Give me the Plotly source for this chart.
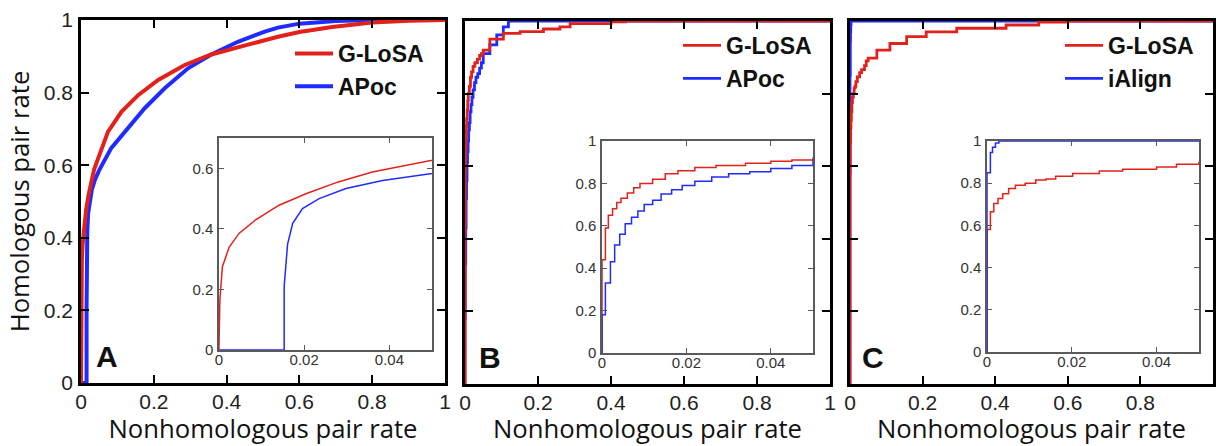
import plotly.graph_objects as go

# ---------------- data ----------------
# Panel A (G-LoSA vs APoc), smooth ROC curves
a_glosa_x = [0, 0, 0.0002, 0.0008, 0.0024, 0.0047, 0.0086, 0.0141, 0.0204, 0.028, 0.036, 0.0494,
             0.074, 0.111, 0.157, 0.212, 0.285, 0.358, 0.45, 0.541, 0.6, 0.69, 0.8, 0.9, 1.0]
a_glosa_y = [0, 0.01, 0.165, 0.275, 0.34, 0.385, 0.43, 0.478, 0.516, 0.555, 0.588, 0.625,
             0.692, 0.747, 0.793, 0.835, 0.876, 0.905, 0.931, 0.954, 0.967, 0.981, 0.993, 0.998, 1.0]
a_apoc_x = [0, 0.0153, 0.0153, 0.0161, 0.0173, 0.0196, 0.0235, 0.0298, 0.0384, 0.0494, 0.083, 0.129,
            0.175, 0.23, 0.294, 0.358, 0.431, 0.505, 0.541, 0.6, 0.7, 0.8, 1.0]
a_apoc_y = [0, 0, 0.21, 0.35, 0.418, 0.467, 0.5, 0.533, 0.56, 0.585, 0.647, 0.702,
            0.757, 0.812, 0.867, 0.905, 0.94, 0.968, 0.979, 0.99, 0.997, 1.0, 1.0]

# Panel B (G-LoSA vs APoc), step ROC curves
b_glosa_x = [0, 0, 0.0008, 0.0015, 0.0025, 0.0035, 0.0045, 0.006, 0.0075, 0.009, 0.012, 0.015, 0.018,
             0.022, 0.027, 0.034, 0.04, 0.045, 0.05, 0.068, 0.105, 0.151, 0.215, 0.26, 0.288, 0.4, 0.44, 1.0]
b_glosa_y = [0, 0.44, 0.59, 0.65, 0.68, 0.71, 0.73, 0.755, 0.78, 0.8, 0.82, 0.845, 0.86,
             0.875, 0.885, 0.895, 0.905, 0.91, 0.92, 0.95, 0.966, 0.971, 0.978, 0.984, 0.993, 0.998, 1.0, 1.0]
b_apoc_x = [0, 0, 0.0008, 0.002, 0.003, 0.0042, 0.0055, 0.007, 0.0085, 0.01, 0.012, 0.014, 0.0165,
            0.019, 0.022, 0.026, 0.03, 0.035, 0.04, 0.045, 0.05, 0.068, 0.087, 0.105, 0.119, 1.0]
b_apoc_y = [0, 0.18, 0.33, 0.43, 0.51, 0.56, 0.61, 0.64, 0.67, 0.7, 0.72, 0.75, 0.77,
            0.79, 0.81, 0.83, 0.845, 0.855, 0.87, 0.885, 0.91, 0.934, 0.962, 0.984, 1.0, 1.0]

# Panel C (G-LoSA vs iAlign), step ROC curves
c_glosa_x = [0, 0, 0.0008, 0.0016, 0.0026, 0.0037, 0.0051, 0.0067, 0.009, 0.0115, 0.0139, 0.0162,
             0.0202, 0.0265, 0.032, 0.04, 0.0447, 0.05, 0.074, 0.11, 0.156, 0.21, 0.294, 0.43, 0.52, 0.6, 1.0]
c_glosa_y = [0, 0.58, 0.665, 0.704, 0.727, 0.75, 0.775, 0.79, 0.8, 0.815, 0.82, 0.833,
             0.846, 0.858, 0.866, 0.877, 0.89, 0.898, 0.92, 0.938, 0.957, 0.97, 0.98, 0.989, 0.997, 1.0, 1.0]
c_ialign_x = [0, 0, 0.0008, 0.0013, 0.002, 0.0028, 1.0]
c_ialign_y = [0, 0.85, 0.945, 0.97, 0.99, 1.0, 1.0]

main_ticks = [0, 0.2, 0.4, 0.6, 0.8, 1]
main_ticktext = ["0", "0.2", "0.4", "0.6", "0.8", "1"]
inset_xticks = [0, 0.02, 0.04]
inset_xticktext = ["0", "0.02", "0.04"]
inset_a_yticks = [0, 0.2, 0.4, 0.6]
inset_a_yticktext = ["0", "0.2", "0.4", "0.6"]
inset_bc_yticks = [0, 0.2, 0.4, 0.6, 0.8, 1]
inset_bc_yticktext = ["0", "0.2", "0.4", "0.6", "0.8", "1"]

panel_labels = ["A", "B", "C"]
legend_names = [["G-LoSA", "APoc"], ["G-LoSA", "APoc"], ["G-LoSA", "iAlign"]]
x_title = "Nonhomologous pair rate"
y_title = "Homologous pair rate"

# ---------------- styling ----------------
W, H = 1218, 446
RED = "#e3211b"
BLUE = "#1f2bff"
FONT = "Liberation Sans, Arial, sans-serif"
TITLE_FONT = "Open Sans, Liberation Sans, sans-serif"


def px_x(a, b):
    return [a / W, b / W]


def px_y(top, bottom):
    return [1 - bottom / H, 1 - top / H]


main_dom = [(px_x(81, 445), px_y(20, 383)),
            (px_x(465, 830), px_y(21, 384)),
            (px_x(850, 1213), px_y(21, 384))]
inset_dom = [(px_x(219, 432), px_y(138, 350)),
             (px_x(602, 813), px_y(141, 353)),
             (px_x(987, 1199), px_y(141, 352))]

fig = go.Figure()

data = [
    (a_glosa_x, a_glosa_y, a_apoc_x, a_apoc_y, "linear"),
    (b_glosa_x, b_glosa_y, b_apoc_x, b_apoc_y, "hv"),
    (c_glosa_x, c_glosa_y, c_ialign_x, c_ialign_y, "hv"),
]
legend_ids = ["legend", "legend2", "legend3"]

for i, (rx, ry, bx, by, shape) in enumerate(data):
    n = i + 1
    xa = "x" if n == 1 else f"x{n}"
    ya = "y" if n == 1 else f"y{n}"
    lw = 4 if i == 0 else 2.8
    fig.add_trace(go.Scatter(x=bx, y=by, mode="lines", line=dict(color=BLUE, width=lw, shape=shape),
                             name=legend_names[i][1], xaxis=xa, yaxis=ya, legend=legend_ids[i],
                             legendgroup=f"g{i}b", legendrank=2, showlegend=True))
    fig.add_trace(go.Scatter(x=rx, y=ry, mode="lines", line=dict(color=RED, width=lw, shape=shape),
                             name=legend_names[i][0], xaxis=xa, yaxis=ya, legend=legend_ids[i],
                             legendgroup=f"g{i}a", legendrank=1, showlegend=True))

for i, (rx, ry, bx, by, shape) in enumerate(data):
    n = i + 4
    xa, ya = f"x{n}", f"y{n}"
    fig.add_trace(go.Scatter(x=rx, y=ry, mode="lines", line=dict(color=RED, width=1.5, shape=shape),
                             xaxis=xa, yaxis=ya, showlegend=False))
    fig.add_trace(go.Scatter(x=bx, y=by, mode="lines", line=dict(color=BLUE, width=1.5, shape=shape),
                             xaxis=xa, yaxis=ya, showlegend=False))

layout = dict(width=W, height=H, margin=dict(l=0, r=0, t=0, b=0, autoexpand=False),
              plot_bgcolor="white", paper_bgcolor="white", showlegend=True)

main_axis = dict(showline=True, linecolor="black", linewidth=2.5, mirror="allticks",
                 ticks="inside", ticklen=8, tickwidth=2, tickcolor="black",
                 range=[0, 1], tickvals=main_ticks, ticktext=main_ticktext,
                 showgrid=False, zeroline=False, automargin=False,
                 tickfont=dict(family=FONT, size=21, color="#222"))
inset_axis = dict(showline=True, linecolor="#5a5a5a", linewidth=1.5, mirror="allticks",
                  ticks="inside", ticklen=5, tickwidth=1, tickcolor="#5a5a5a",
                  showgrid=False, zeroline=False, automargin=False,
                  tickfont=dict(family=FONT, size=15, color="#333"))

for i in range(3):
    n = i + 1
    kx = "xaxis" if n == 1 else f"xaxis{n}"
    ky = "yaxis" if n == 1 else f"yaxis{n}"
    xa = "x" if n == 1 else f"x{n}"
    ya = "y" if n == 1 else f"y{n}"
    xd, yd = main_dom[i]
    layout[kx] = dict(main_axis, domain=xd, anchor=ya, ticklabelstandoff=-2,
                      title=dict(text=x_title, font=dict(family=TITLE_FONT, size=25.7, color="#111"),
                                 standoff=12))
    ydict = dict(main_axis, domain=yd, anchor=xa, ticklabelstandoff=1,
                 showticklabels=(i == 0))
    if i == 0:
        ydict["title"] = dict(text=y_title, font=dict(family=TITLE_FONT, size=25.7, color="#111"),
                              standoff=7)
    layout[ky] = ydict

for i in range(3):
    n = i + 4
    xd, yd = inset_dom[i]
    layout[f"xaxis{n}"] = dict(inset_axis, domain=xd, anchor=f"y{n}", range=[0, 0.05],
                               tickvals=inset_xticks, ticktext=inset_xticktext, ticklabelstandoff=-5)
    if i == 0:
        layout[f"yaxis{n}"] = dict(inset_axis, domain=yd, anchor=f"x{n}", range=[0, 0.7],
                                   tickvals=inset_a_yticks, ticktext=inset_a_yticktext,
                                   ticklabelstandoff=1)
    else:
        layout[f"yaxis{n}"] = dict(inset_axis, domain=yd, anchor=f"x{n}", range=[0, 1],
                                   tickvals=inset_bc_yticks, ticktext=inset_bc_yticktext,
                                   ticklabelstandoff=1)

legend_pos = [(290, 32), (678, 24), (1060, 24)]
for i, lid in enumerate(legend_ids):
    lx, ly = legend_pos[i]
    layout[lid] = dict(x=lx / W, y=1 - ly / H, xanchor="left", yanchor="top",
                       bgcolor="rgba(0,0,0,0)", borderwidth=0, tracegroupgap=2,
                       traceorder="normal", itemwidth=38,
                       font=dict(family=FONT, size=23, color="#111", weight="bold"))

annotations = []
label_pos = [0.071, 0.068, 0.063]
for i, lab in enumerate(panel_labels):
    n = i + 1
    xa = "x" if n == 1 else f"x{n}"
    ya = "y" if n == 1 else f"y{n}"
    annotations.append(dict(text=f"<b>{lab}</b>", x=label_pos[i], y=0.072,
                            xref=f"{xa} domain", yref=f"{ya} domain",
                            xanchor="center", yanchor="middle",
                            showarrow=False, font=dict(family=FONT, size=30, color="#111")))
layout["annotations"] = annotations

fig.update_layout(**layout)
fig.write_html("out.html", config={"displayModeBar": False},
               post_script="document.body.style.margin='0';document.body.style.overflow='hidden';")
